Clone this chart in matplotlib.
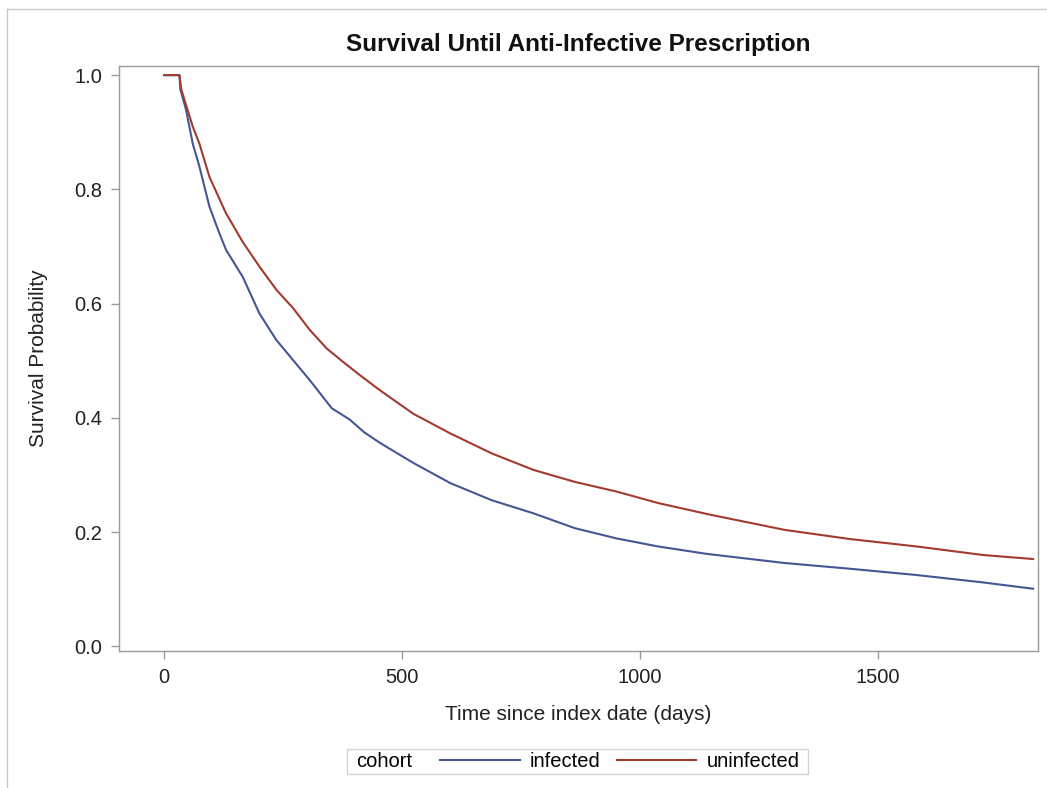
import matplotlib
matplotlib.use("Agg")
import matplotlib.pyplot as plt
from matplotlib.lines import Line2D
from matplotlib.offsetbox import HPacker, DrawingArea

plt.rcParams['font.family'] = ['Liberation Sans', 'DejaVu Sans']

# Kaplan-Meier curves (days, survival probability)
infected_days = [0, 32, 34, 46, 60, 74, 95, 116, 130, 165, 200, 236, 271, 306, 352,
                 390, 420, 454, 524, 601, 688, 776, 863, 951, 1038, 1140, 1304, 1441,
                 1581, 1721, 1826]
infected_surv = [1.0, 1.0, 0.975, 0.939, 0.880, 0.840, 0.770, 0.723, 0.694, 0.647,
                 0.583, 0.536, 0.501, 0.466, 0.417, 0.397, 0.375, 0.356, 0.321, 0.286,
                 0.256, 0.233, 0.207, 0.189, 0.175, 0.162, 0.146, 0.136, 0.125, 0.112,
                 0.101]

uninfected_days = [0, 32, 36, 45, 60, 74, 95, 130, 165, 200, 236, 271, 306, 341, 376,
                   411, 454, 524, 601, 688, 776, 863, 951, 1038, 1145, 1304,
                   1441, 1581, 1721, 1826]
uninfected_surv = [1.0, 1.0, 0.975, 0.950, 0.910, 0.880, 0.822, 0.758, 0.708, 0.665,
                   0.624, 0.592, 0.554, 0.522, 0.498, 0.475, 0.448, 0.407, 0.373, 0.338,
                   0.309, 0.288, 0.271, 0.251, 0.231, 0.204, 0.188, 0.175, 0.160,
                   0.153]

x_ticks = [0, 500, 1000, 1500]
y_ticks = [0.0, 0.2, 0.4, 0.6, 0.8, 1.0]

blue = '#445694'
red = '#A23A2E'
axis_grey = '#9a9a9a'

fig = plt.figure(figsize=(10.47, 7.88), dpi=100)
ax = fig.add_axes([0.11366, 0.17386, 0.87803, 0.74239])

l1, = ax.plot(infected_days, infected_surv, color=blue, lw=1.5, label='infected')
l2, = ax.plot(uninfected_days, uninfected_surv, color=red, lw=1.5, label='uninfected')

ax.set_xlim(-95, 1837)
ax.set_ylim(-0.008, 1.016)
ax.set_xticks(x_ticks)
ax.set_yticks(y_ticks)
ax.set_yticklabels(['%.1f' % v for v in y_ticks])

for s in ax.spines.values():
    s.set_color(axis_grey)
    s.set_linewidth(1.0)
ax.tick_params(axis='both', colors=axis_grey, labelcolor='#222222',
               labelsize=14.5, length=6, width=1, pad=6)

ax.set_title('Survival Until Anti-Infective Prescription', fontsize=17.5,
             fontweight='bold', color='#111111', pad=11)
ax.set_xlabel('Time since index date (days)', fontsize=15, color='#222222')
ax.set_ylabel('Survival Probability', fontsize=15, color='#222222')
ax.xaxis.set_label_coords(0.5, -0.092)
ax.yaxis.set_label_coords(-0.077, 0.5)

# legend with the group title sitting to the left of the entries
leg = fig.legend(handles=[l1, l2], labels=['infected', 'uninfected'], ncol=2,
                 title='cohort', loc='center', bbox_to_anchor=(0.552, 0.0336),
                 fontsize=14.5, title_fontsize=14.5, frameon=True, fancybox=False,
                 edgecolor='#c8c8c8', handlelength=3.95, handletextpad=0.5,
                 columnspacing=0.8, borderpad=0.17)
leg.get_frame().set_linewidth(1.0)
title_box, handle_box = leg._legend_box.get_children()
new_box = HPacker(pad=leg.borderpad * leg._fontsize, sep=0, align='center',
                  children=[DrawingArea(4, 1), title_box, DrawingArea(20, 1),
                            handle_box, DrawingArea(4, 1)])
new_box.set_figure(fig)
new_box.axes = leg.axes
new_box.set_offset(leg._findoffset)
leg._legend_box = new_box

# outer frame of the output page
fig.add_artist(Line2D([7 / 1047, 7 / 1047], [0, 1 - 9 / 788], transform=fig.transFigure,
                      color='#c8c8c8', lw=1))
fig.add_artist(Line2D([7 / 1047, 1], [1 - 9 / 788, 1 - 9 / 788], transform=fig.transFigure,
                      color='#c8c8c8', lw=1))

fig.savefig('out.png', dpi=100)
